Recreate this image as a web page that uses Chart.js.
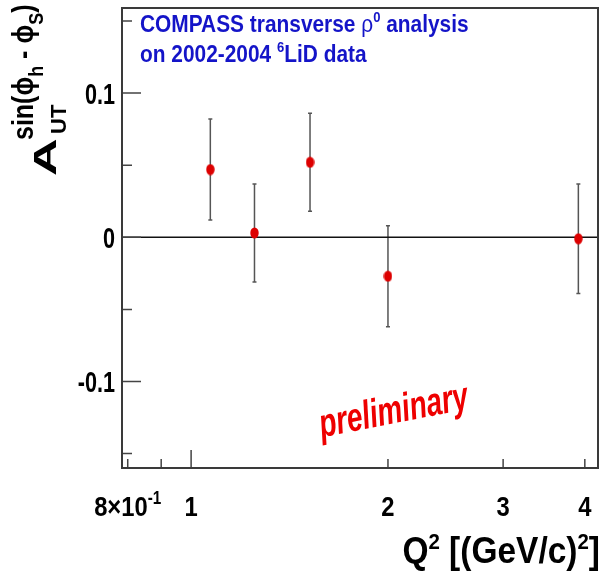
<!DOCTYPE html>
<html>
<head>
<meta charset="utf-8">
<script src="https://cdn.jsdelivr.net/npm/chart.js@4/dist/chart.umd.min.js"></script>
<style>
  body { margin: 0; background: #fff; }
  #wrap { width: 601px; height: 585px; }
</style>
</head>
<body>
<div id="wrap"><canvas id="chart" width="601" height="585"></canvas></div>
<script>
// Q^2 bins and the measured asymmetry with its statistical error
var q2 = [1.07, 1.25, 1.52, 2.0, 3.91];
var asym = [0.047, 0.003, 0.052, -0.027, -0.001];
var asymErr = [0.035, 0.034, 0.034, 0.035, 0.038];

// axis ticks
var xTickValues = [0.8, 0.9, 1, 2, 3, 4];
var xLabelValues = [0.8, 1, 2, 3, 4];
var xLabelText = ["8×10^-1", "1", "2", "3", "4"];
var yMajorTicks = [-0.1, 0, 0.1];
var yMinorTicks = [-0.15, -0.05, 0.05, 0.15];
var yLabelText = ["-0.1", "0", "0.1"];

var FONT = '"Liberation Sans", Arial, sans-serif';

// markers are slightly taller than wide
var dot = document.createElement("canvas");
dot.width = 9;
dot.height = 12;
var dctx = dot.getContext("2d");
dctx.fillStyle = "#dd0000";
dctx.beginPath();
dctx.ellipse(4.5, 6, 4.2, 5.5, 0, 0, Math.PI * 2);
dctx.fill();

// draw a list of text runs (for super/subscripts) with a squeeze factor
function drawRuns(ctx, runs, x, y, align, sx, sy) {
  var w = 0;
  runs.forEach(function (r) {
    ctx.font = r.font;
    r.w = ctx.measureText(r.text).width;
    w += r.w;
  });
  ctx.save();
  ctx.translate(x, y);
  ctx.scale(sx, sy || 1);
  var cx = align === "right" ? -w : align === "center" ? -w / 2 : 0;
  ctx.textAlign = "left";
  ctx.textBaseline = "alphabetic";
  runs.forEach(function (r) {
    ctx.font = r.font;
    ctx.fillStyle = r.color || ctx.fillStyle;
    ctx.fillText(r.text, cx, r.dy || 0);
    cx += r.w;
  });
  ctx.restore();
}

function bold(px) {
  return "bold " + px + "px " + FONT;
}

var errorBars = {
  id: "errorBars",
  beforeDatasetsDraw: function (chart) {
    var ctx = chart.ctx;
    var xs = chart.scales.x;
    var ys = chart.scales.y;
    ctx.save();
    ctx.strokeStyle = "#555";
    ctx.lineWidth = 1.5;
    for (var i = 0; i < q2.length; i++) {
      var px = xs.getPixelForValue(q2[i]);
      var top = ys.getPixelForValue(asym[i] + asymErr[i]);
      var bot = ys.getPixelForValue(asym[i] - asymErr[i]);
      ctx.beginPath();
      ctx.moveTo(px, top);
      ctx.lineTo(px, bot);
      ctx.moveTo(px - 2, top);
      ctx.lineTo(px + 2, top);
      ctx.moveTo(px - 2, bot);
      ctx.lineTo(px + 2, bot);
      ctx.stroke();
    }
    ctx.restore();
  },
};

var frame = {
  id: "frame",
  beforeDatasetsDraw: function (chart) {
    var ctx = chart.ctx;
    var a = chart.chartArea;
    var xs = chart.scales.x;
    var ys = chart.scales.y;
    ctx.save();
    // zero line
    var y0 = ys.getPixelForValue(0);
    ctx.strokeStyle = "#111";
    ctx.lineWidth = 1.5;
    ctx.beginPath();
    ctx.moveTo(a.left, y0);
    ctx.lineTo(a.right, y0);
    ctx.stroke();

    // ticks pointing into the frame
    ctx.strokeStyle = "#444";
    ctx.lineWidth = 1.5;
    ctx.beginPath();
    yMajorTicks.forEach(function (v) {
      var p = ys.getPixelForValue(v);
      ctx.moveTo(a.left, p);
      ctx.lineTo(a.left + 19, p);
    });
    yMinorTicks.forEach(function (v) {
      var p = ys.getPixelForValue(v);
      ctx.moveTo(a.left, p);
      ctx.lineTo(a.left + 10, p);
    });
    xTickValues.forEach(function (v) {
      var p = xs.getPixelForValue(v);
      ctx.moveTo(p, a.bottom);
      ctx.lineTo(p, a.bottom - (v === 1 ? 18 : 9));
    });
    ctx.stroke();

    // frame
    ctx.strokeStyle = "#3a3a3a";
    ctx.lineWidth = 2;
    ctx.strokeRect(a.left, a.top, a.right - a.left, a.bottom - a.top);
    ctx.restore();
  },
  afterDraw: function (chart) {
    var ctx = chart.ctx;
    var xs = chart.scales.x;
    var ys = chart.scales.y;
    ctx.save();
    ctx.fillStyle = "#000";

    // y tick labels
    yMajorTicks.forEach(function (v, i) {
      drawRuns(ctx, [{ text: yLabelText[i], font: bold(30) }],
        115, ys.getPixelForValue(v) + 11, "right", 0.72);
    });

    // x tick labels, "a^b" gets a superscript
    xLabelValues.forEach(function (v, i) {
      var parts = xLabelText[i].split("^");
      var runs = [{ text: parts[0], font: bold(28) }];
      if (parts[1]) runs.push({ text: parts[1], font: bold(18), dy: -12 });
      drawRuns(ctx, runs, xs.getPixelForValue(v), 516, "center", 0.85);
    });

    // x axis title
    drawRuns(ctx, [
      { text: "Q", font: bold(36) },
      { text: "2", font: bold(22), dy: -14 },
      { text: " [(GeV/c)", font: bold(36) },
      { text: "2", font: bold(22), dy: -14 },
      { text: "]", font: bold(36) },
    ], 600, 563, "right", 0.93);

    // y axis title, rotated
    ctx.save();
    ctx.translate(56, 176);
    ctx.rotate(-Math.PI / 2);
    drawRuns(ctx, [{ text: "A", font: bold(52) }], 0, 0, "left", 1, 0.62);
    drawRuns(ctx, [{ text: "UT", font: bold(22) }], 42, 10, "left", 1, 1);
    drawRuns(ctx, [
      { text: "sin(ϕ", font: bold(25) },
      { text: "h", font: bold(18), dy: 9 },
      { text: " - ϕ", font: bold(25) },
      { text: "S", font: bold(18), dy: 9 },
      { text: ")", font: bold(25) },
    ], 36, -23, "left", 1, 1.15);
    ctx.restore();

    // header
    ctx.fillStyle = "#1414c8";
    drawRuns(ctx, [
      { text: "COMPASS transverse ", font: bold(24) },
      { text: "ρ", font: "24px " + FONT },
      { text: "0", font: bold(15), dy: -10 },
      { text: " analysis", font: bold(24) },
    ], 140, 32, "left", 0.87);
    drawRuns(ctx, [
      { text: "on 2002-2004 ", font: bold(24) },
      { text: "6", font: bold(15), dy: -10 },
      { text: "LiD data", font: bold(24) },
    ], 140, 62, "left", 0.87);

    // preliminary stamp
    ctx.translate(394, 413);
    ctx.rotate(-11 * Math.PI / 180);
    ctx.fillStyle = "#ee0000";
    drawRuns(ctx, [{ text: "preliminary", font: "italic bold 40px " + FONT }],
      0, 10, "center", 0.7);
    ctx.restore();
  },
};

var chart = new Chart(document.getElementById("chart").getContext("2d"), {
  type: "scatter",
  data: {
    datasets: [
      {
        label: "A_UT",
        data: q2.map(function (q, i) { return { x: q, y: asym[i] }; }),
        pointStyle: dot,
        pointRadius: 5,
        pointHoverRadius: 5,
      },
    ],
  },
  options: {
    responsive: false,
    animation: false,
    events: [],
    layout: {
      autoPadding: false,
      padding: { left: 122, top: 8, right: 3, bottom: 117 },
    },
    plugins: {
      legend: { display: false },
      tooltip: { enabled: false },
    },
    scales: {
      x: { type: "logarithmic", min: 0.784, max: 4.19, display: false },
      y: { type: "linear", min: -0.16, max: 0.159, display: false },
    },
  },
  plugins: [errorBars, frame],
});
</script>
</body>
</html>
